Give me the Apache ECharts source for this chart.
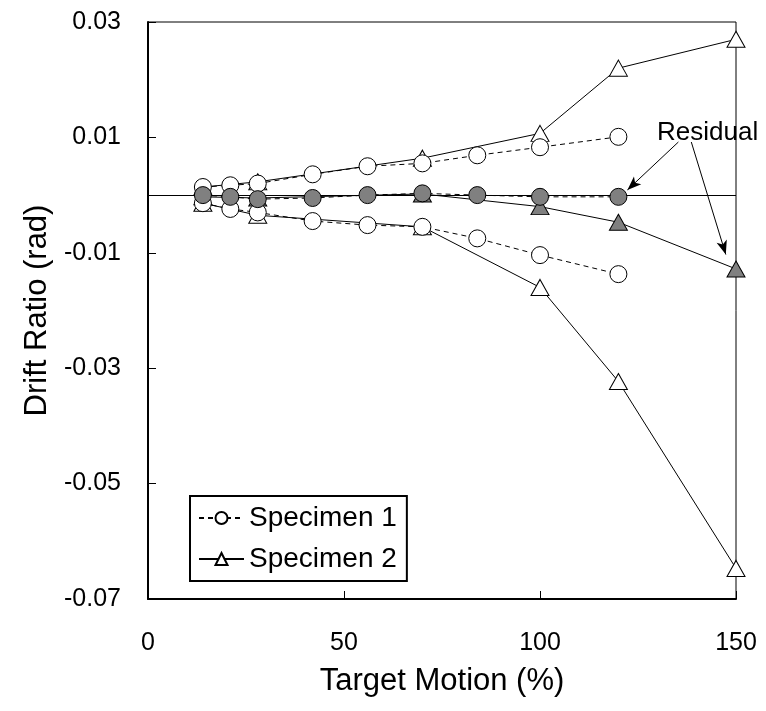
<!DOCTYPE html>
<html>
<head>
<meta charset="utf-8">
<script src="https://cdn.jsdelivr.net/npm/echarts@6/dist/echarts.min.js"></script>
<style>html,body{margin:0;padding:0;background:#fff}#c{width:766px;height:711px}</style>
</head>
<body>
<div id="c"></div>
<script>
// Specimen 1 (circles, dashed)
const x1 = [14, 21, 28, 42, 56, 70, 84, 100, 120];
const s1Pos = [0.0014, 0.0017, 0.0020, 0.0036, 0.0050, 0.0055, 0.0069, 0.0083, 0.0101];
const s1Res = [0.0000, -0.0003, -0.0007, -0.0005, 0.0000, 0.0003, 0.0000, -0.0003, -0.0003];
const s1Neg = [-0.0014, -0.0024, -0.0030, -0.0045, -0.0052, -0.0055, -0.0075, -0.0104, -0.0137];
// Specimen 2 (triangles, solid)
const x2 = [14, 28, 70, 100, 120, 150];
const s2Pos = [0.0014, 0.0023, 0.0064, 0.0107, 0.0220, 0.0270];
const s2Res = [-0.0003, -0.0005, 0.0002, -0.0020, -0.0047, -0.0128];
const s2Neg = [-0.0014, -0.0035, -0.0055, -0.0160, -0.0323, -0.0647];
// Axis ticks
const xTicks = [0, 50, 100, 150];
const yTicks = [-0.07, -0.05, -0.03, -0.01, 0.01, 0.03];
// Annotation arrows (data coords: start -> end)
const arrowResidual1 = [[135.3, 0.0092], [122.3, 0.0009]];
const arrowResidual2 = [[138.6, 0.0092], [147.4, -0.0103]];

const FONT = 'Liberation Sans, Arial, Helvetica, sans-serif';
const pair = (xs, ys) => xs.map((x, i) => [x, ys[i]]);

const chart = echarts.init(document.getElementById('c'), null, {renderer: 'canvas'});

function s1(name, ys, fill) {
  return {
    type: 'line', name: name, data: pair(x1, ys), z: 4,
    symbol: 'circle', symbolSize: 17,
    lineStyle: {color: '#000', width: 1, type: [5, 4]},
    itemStyle: {color: fill, borderColor: '#000', borderWidth: 1},
    emphasis: {disabled: true}, animation: false
  };
}
function s2(name, ys, fill) {
  return {
    type: 'line', name: name, data: pair(x2, ys), z: 3,
    symbol: 'triangle', symbolSize: [18, 16],
    lineStyle: {color: '#000', width: 1, type: 'solid'},
    itemStyle: {color: fill, borderColor: '#000', borderWidth: 1},
    emphasis: {disabled: true}, animation: false
  };
}

const option = {
  backgroundColor: '#fff',
  animation: false,
  grid: {left: 148, right: 30, top: 22, bottom: 112, show: true, borderColor: '#000', borderWidth: 1, backgroundColor: 'transparent'},
  xAxis: {
    type: 'value', min: 0, max: 150, interval: 50,
    name: 'Target Motion (%)', nameLocation: 'middle', nameGap: 67,
    nameTextStyle: {fontFamily: FONT, fontSize: 31, color: '#000'},
    axisLine: {show: true, onZero: false, lineStyle: {color: '#000', width: 2}},
    axisTick: {show: true, inside: true, length: 8, lineStyle: {color: '#000', width: 1}},
    axisLabel: {fontFamily: FONT, fontSize: 25, color: '#000', margin: 32, customValues: xTicks},
    splitLine: {show: false}
  },
  yAxis: {
    type: 'value', min: -0.07, max: 0.03,
    name: 'Drift Ratio (rad)', nameLocation: 'middle', nameGap: 95, nameRotate: 90,
    nameTextStyle: {fontFamily: FONT, fontSize: 31, color: '#000'},
    axisLine: {show: true, onZero: false, lineStyle: {color: '#000', width: 2}},
    axisTick: {show: true, inside: true, length: 8, lineStyle: {color: '#000', width: 1}, customValues: yTicks},
    axisLabel: {fontFamily: FONT, fontSize: 25, color: '#000', margin: 27, customValues: yTicks,
      formatter: v => (Math.round(v * 100) / 100).toFixed(2)},
    splitLine: {show: false}
  },
  legend: {
    data: ['Specimen 1', 'Specimen 2'],
    orient: 'vertical', left: 190, top: 496,
    itemWidth: 45, itemHeight: 15, itemGap: 13,
    padding: [8, 10, 8, 8],
    borderColor: '#000', borderWidth: 2, borderRadius: 0, backgroundColor: '#fff',
    textStyle: {fontFamily: FONT, fontSize: 28, color: '#000'},
    selectedMode: false
  },
  graphic: [{
    type: 'text', left: 657, top: 120, z: 100,
    style: {text: 'Residual', fontFamily: FONT, fontSize: 26, fill: '#000'}
  }],
  series: [
    s2('Specimen 2', s2Pos, '#fff'),
    s2('Specimen 2 neg', s2Neg, '#fff'),
    s2('Specimen 2 residual', s2Res, '#808080'),
    s1('Specimen 1', s1Pos, '#fff'),
    s1('Specimen 1 neg', s1Neg, '#fff'),
    s1('Specimen 1 residual', s1Res, '#808080'),
    {
      type: 'line', name: 'annotations', data: [], z: 2, silent: true,
      markLine: {
        silent: true, animation: false, z: 2,
        symbol: ['none', 'none'],
        label: {show: false},
        lineStyle: {color: '#000', width: 1, type: 'solid'},
        data: [[{xAxis: 0, yAxis: 0}, {xAxis: 150, yAxis: 0}]]
      }
    },
    {
      type: 'line', name: 'arrows', data: [], z: 6, silent: true,
      markLine: {
        silent: true, animation: false, z: 6,
        symbol: ['none', 'arrow'], symbolSize: [8, 14],
        label: {show: false},
        lineStyle: {color: '#000', width: 1, type: 'solid'},
        data: [
          [{coord: arrowResidual1[0]}, {coord: arrowResidual1[1]}],
          [{coord: arrowResidual2[0]}, {coord: arrowResidual2[1]}]
        ]
      }
    }
  ]
};
chart.setOption(option);
</script>
</body>
</html>
